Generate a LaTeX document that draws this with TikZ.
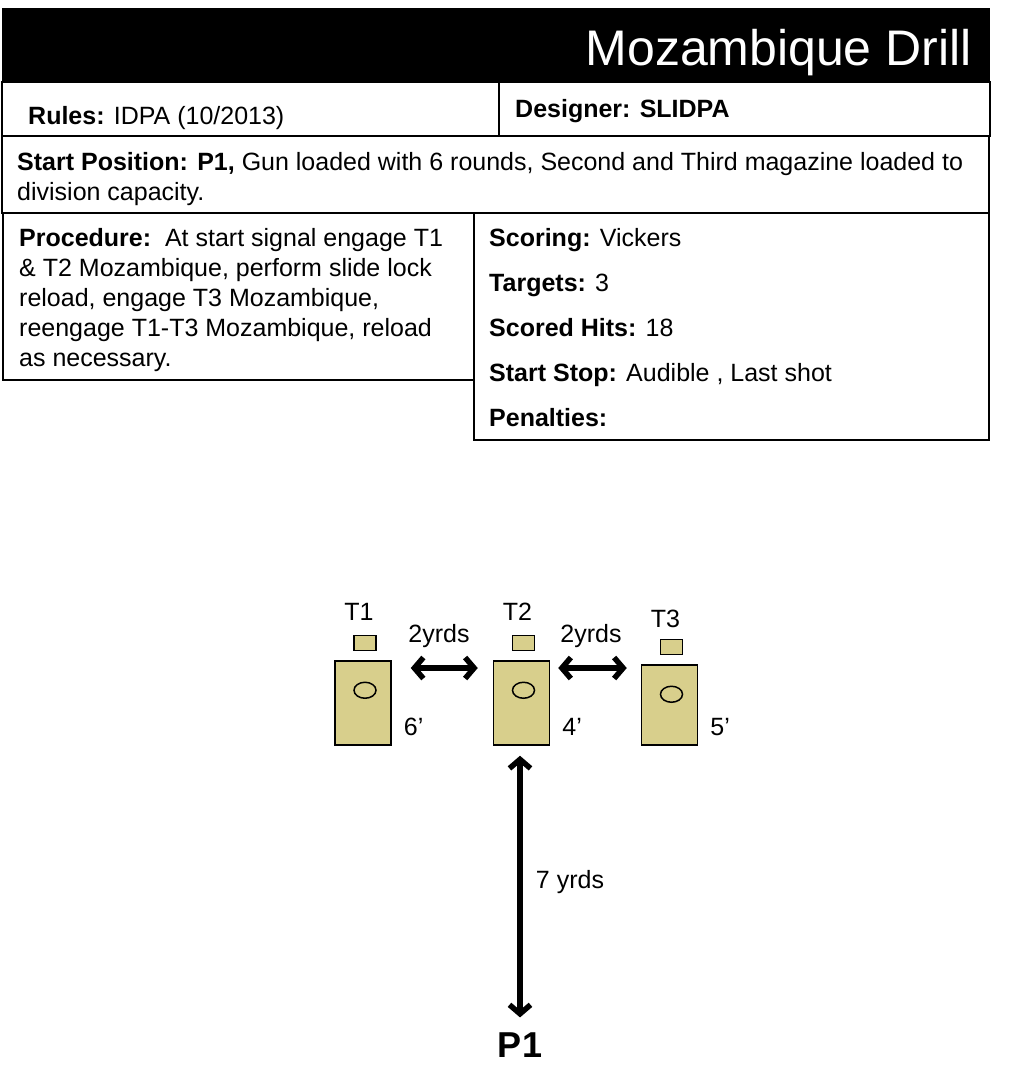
\documentclass[tikz,border=0pt]{standalone}
\usepackage{fontspec}
\setmainfont{Liberation Sans}
\usepackage{xcolor}
\usepackage{tikz}
\usetikzlibrary{arrows.meta,positioning,calc}
\definecolor{tanF}{HTML}{D8CF8C}
\definecolor{boxB}{HTML}{000000}

\begin{document}
\begin{tikzpicture}[x=1pt,y=-1pt,
  txt/.style={font=\fontsize{25}{30}\selectfont, inner sep=0pt},
  frame/.style={line width=1.6pt, draw=boxB},
  target/.style={draw, line width=1.5pt, fill=tanF, inner sep=0pt},
  dblarrow/.style={{Straight Barb[length=9pt,width=21pt]}-{Straight Barb[length=9pt,width=21pt]}, line width=5.5pt},
  ]
\useasboundingbox (0,0) rectangle (1017,1090);

% === title bar
\fill[black] (2,8) rectangle (990,82);
\node[inner sep=0pt, anchor=base east, text=white, font=\fontsize{50}{52}\selectfont] (title) at (972,65) {Mozambique Drill};

% === rules / designer
\draw[frame] (2,82) rectangle (990,136);
\draw[frame] (499,82) -- (499,136);
\node[txt, anchor=base west] (rules) at (28,124) {\textbf{Rules:} IDPA (10/2013)};
\node[txt, anchor=base west] (designer) at (515,117) {\textbf{Designer: SLIDPA}};

% === start position
\draw[frame] (2,136) rectangle (989,213);
\node[txt, anchor=north west, align=left] (start) at (17,152)
  {\textbf{Start Position: P1,} Gun loaded with 6 rounds, Second and Third magazine loaded to\\division capacity.};

% === procedure
\draw[frame] (3,213) rectangle (474,380);
\node[txt, anchor=north west, align=left] (proc) at (19,228)
  {\textbf{Procedure:}\ \ At start signal engage T1\\
   \& T2 Mozambique, perform slide lock\\
   reload, engage T3 Mozambique,\\
   reengage T1-T3 Mozambique, reload\\
   as necessary.};

% === scoring
\draw[frame] (474,213) rectangle (989,440);
\node[txt, anchor=north west, align=left, font=\fontsize{25}{45}\selectfont] (score) at (489,228)
  {\textbf{Scoring:} Vickers\\
   \textbf{Targets:} 3\\
   \textbf{Scored Hits:} 18\\
   \textbf{Start Stop:} Audible , Last shot\\
   \textbf{Penalties:}};

% === targets
\foreach \n/\x/\y/\h/\lab/\ly/\ft in {1/363/703/84/T1/612/6,2/521.5/703/84/T2/612/4,3/669.5/705/80/T3/619/5} {
  \node[target, minimum width=56pt, minimum height=\h pt] (t\n) at (\x,\y) {};
  \node[target, minimum width=22pt, minimum height=15pt, above=9pt of t\n, xshift=2pt] (h\n) {};
  \draw[line width=1.5pt] ($(t\n.north)+(2,30)$) ellipse (11pt and 8pt);
  \node[txt] (l\n) at (\x-4,\ly) {\lab};
  \node[txt, right=12pt of t\n.south east, anchor=base west, yshift=10pt] (f\n) {\ft’};
}

% === spacing
\node[txt] (d12) at (439,636) {2yrds};
\node[txt] (d23) at (591,636) {2yrds};
\draw[dblarrow, shorten <=19pt, shorten >=15pt] ([yshift=35pt]t1.east) -- ([yshift=35pt]t1.east -| t2.west);
\draw[dblarrow, shorten <=8pt, shorten >=14pt] ([yshift=35pt]t2.east) -- ([yshift=35pt]t2.east -| t3.west);

% === shooter
\node[inner sep=0pt, font=\fontsize{36}{38}\selectfont\bfseries] (p1) at (520,1045) {P1};
\draw[dblarrow, shorten <=10pt, shorten >=15pt] (t2.south -| p1.north) -- (p1.north);
\node[txt] (d7) at (570,882) {7 yrds};

\end{tikzpicture}
\end{document}
